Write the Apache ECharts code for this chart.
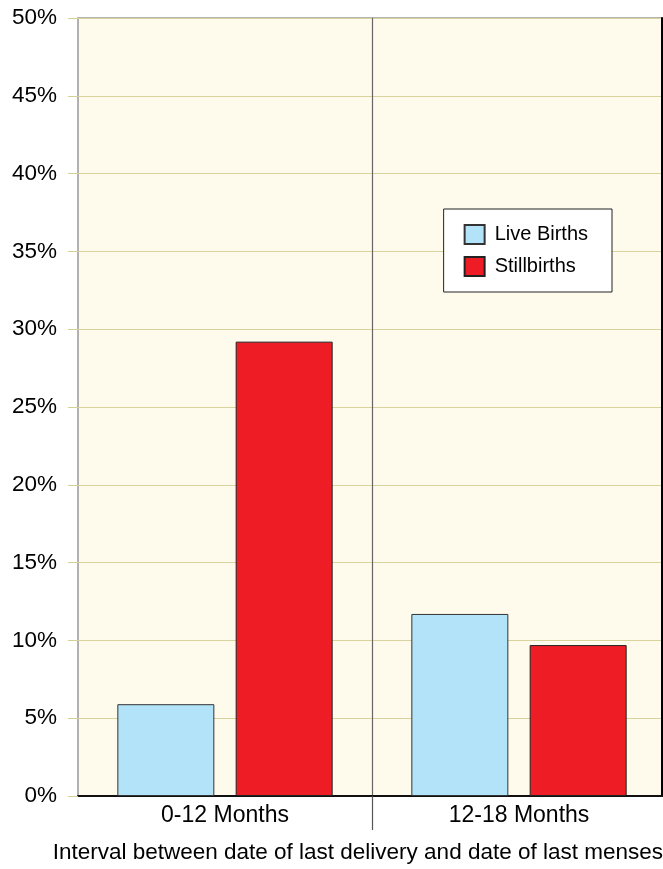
<!DOCTYPE html>
<html>
<head>
<meta charset="utf-8">
<script src="https://cdn.jsdelivr.net/npm/echarts@6/dist/echarts.min.js"></script>
<style>
html,body{margin:0;padding:0;background:#fff;}
#c{width:663px;height:869px;}
</style>
</head>
<body>
<div id="c"></div>
<script>
const categories = ['0-12 Months', '12-18 Months'];
const liveBirths = [5.9, 11.7];
const stillbirths = [29.2, 9.7];
const yTicks = { min: 0, max: 50, interval: 5 };
const separatorSlots = ['', '', ''];
const xTitle = 'Interval between date of last delivery and date of last menses';

const FONT = '"Liberation Sans", Arial, Helvetica, sans-serif';
const chart = echarts.init(document.getElementById('c'));
chart.setOption({
  backgroundColor: '#ffffff',
  animation: false,
  title: {
    text: xTitle,
    right: 0,
    top: 841,
    padding: 0,
    textStyle: { fontFamily: FONT, fontSize: 22.5, fontWeight: 'normal', color: '#000' }
  },
  legend: {
    data: ['Live Births', 'Stillbirths'],
    orient: 'vertical',
    right: 51,
    top: 209,
    padding: [15, 24, 15, 20],
    itemGap: 11,
    itemWidth: 20,
    itemHeight: 19,
    icon: 'rect',
    backgroundColor: '#ffffff',
    borderColor: '#222',
    borderWidth: 1,
    textStyle: { fontFamily: FONT, fontSize: 20, color: '#000', padding: [0, 0, 0, 5] }
  },
  grid: {
    left: 78, width: 588, top: 18, bottom: 73,
    show: true,
    backgroundColor: '#fefbec',
    borderColor: '#999',
    borderWidth: 1.5,
    containLabel: false,
    outerBoundsMode: 'none'
  },
  xAxis: [
    {
      type: 'category',
      data: categories,
      axisLine: { show: true, lineStyle: { color: '#111', width: 2 } },
      axisTick: { show: false },
      splitLine: { show: false },
      axisLabel: { margin: 8, fontFamily: FONT, fontSize: 23, color: '#000' }
    },
    {
      type: 'category',
      data: separatorSlots,
      boundaryGap: false,
      position: 'bottom',
      axisLine: { show: false },
      axisLabel: { show: false },
      axisTick: { show: true, interval: (i) => i === 1, length: 34, lineStyle: { color: '#555', width: 1.2 } },
      splitLine: { show: true, interval: (i) => i === 1, lineStyle: { color: '#666', width: 1.2 } }
    }
  ],
  yAxis: [
    {
      type: 'value',
      min: yTicks.min, max: yTicks.max, interval: yTicks.interval,
      axisLine: { show: false },
      axisTick: { show: true, length: 10, lineStyle: { color: '#d4cf96', width: 1 } },
      splitLine: { show: true, lineStyle: { color: '#d8d39c', width: 1 } },
      axisLabel: { margin: 21, fontFamily: FONT, fontSize: 22.5, color: '#000', formatter: '{value}%' }
    },
    {
      type: 'value',
      position: 'right',
      offset: -4,
      min: yTicks.min, max: yTicks.max, interval: yTicks.interval,
      axisLine: { show: true, lineStyle: { color: '#000', width: 2 } },
      axisTick: { show: false },
      axisLabel: { show: false },
      splitLine: { show: false }
    }
  ],
  series: [
    {
      name: 'Live Births',
      type: 'bar',
      xAxisIndex: 0, yAxisIndex: 0,
      data: liveBirths,
      barWidth: 97,
      barGap: '22%',
      itemStyle: { color: '#b3e3f8', borderColor: '#333', borderWidth: 1 }
    },
    {
      name: 'Stillbirths',
      type: 'bar',
      xAxisIndex: 0, yAxisIndex: 0,
      data: stillbirths,
      barWidth: 97,
      barGap: '22%',
      itemStyle: { color: '#ee1c24', borderColor: '#222', borderWidth: 1 }
    }
  ]
});
</script>
</body>
</html>
